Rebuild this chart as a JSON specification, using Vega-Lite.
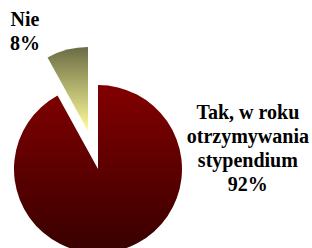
{
  "$schema": "https://vega.github.io/schema/vega-lite/v6.json",
  "width": 196,
  "height": 338,
  "autosize": {"type": "none"},
  "padding": {"left": 0, "top": 0, "right": 116, "bottom": -90},
  "background": "white",
  "config": {"view": {"stroke": null}},
  "data": {
    "values": [
      {"answer": "Tak", "label": "Tak, w roku\notrzymywania\nstypendium\n92%", "value": 92},
      {"answer": "Nie", "label": "Nie\n8%", "value": 8}
    ]
  },
  "transform": [
    {"stack": "value", "groupby": [], "sort": [{"field": "value", "order": "descending"}], "as": ["v0", "v1"]}
  ],
  "layer": [
    {
      "transform": [{"filter": "datum.answer === 'Tak'"}],
      "mark": {
        "type": "arc",
        "outerRadius": 84,
        "fill": {
          "gradient": "linear",
          "x1": 0, "y1": 0, "x2": 0, "y2": 1,
          "stops": [
            {"offset": 0, "color": "#820000"},
            {"offset": 1, "color": "#380000"}
          ]
        }
      },
      "encoding": {
        "theta": {"field": "v0", "type": "quantitative", "scale": {"domain": [0, 100]}},
        "theta2": {"field": "v1"}
      }
    },
    {
      "transform": [{"filter": "datum.answer === 'Nie'"}],
      "mark": {
        "type": "arc",
        "outerRadius": 84,
        "xOffset": -10,
        "yOffset": -38,
        "fill": {
          "gradient": "linear",
          "x1": 0, "y1": 0, "x2": 0, "y2": 1,
          "stops": [
            {"offset": 0, "color": "#6b6b45"},
            {"offset": 1, "color": "#ffff99"}
          ]
        }
      },
      "encoding": {
        "theta": {"field": "v0", "type": "quantitative", "scale": {"domain": [0, 100]}},
        "theta2": {"field": "v1"}
      }
    },
    {
      "transform": [{"filter": "datum.answer === 'Tak'"}],
      "mark": {
        "type": "text",
        "theta": 1.213,
        "radius": 160,
        "font": "Liberation Serif",
        "fontSize": 20,
        "fontWeight": "bold",
        "lineHeight": 24,
        "lineBreak": "\n",
        "align": "center",
        "baseline": "middle",
        "color": "black"
      },
      "encoding": {"text": {"field": "label"}}
    },
    {
      "transform": [{"filter": "datum.answer === 'Nie'"}],
      "mark": {
        "type": "text",
        "theta": -0.455,
        "radius": 166,
        "font": "Liberation Serif",
        "fontSize": 20,
        "fontWeight": "bold",
        "lineHeight": 24,
        "lineBreak": "\n",
        "align": "center",
        "baseline": "middle",
        "color": "black"
      },
      "encoding": {"text": {"field": "label"}}
    }
  ]
}
